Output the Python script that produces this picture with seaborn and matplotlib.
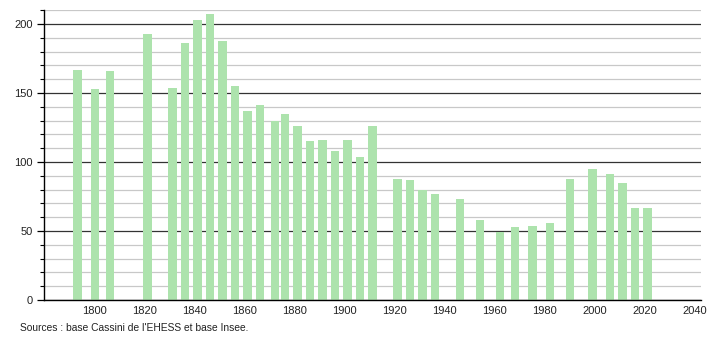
import matplotlib
matplotlib.use("Agg")
import matplotlib.pyplot as plt
import seaborn as sns
import pandas as pd
from matplotlib.ticker import MultipleLocator

years = [1793, 1800, 1806, 1821, 1831, 1836, 1841, 1846, 1851, 1856, 1861, 1866,
         1872, 1876, 1881, 1886, 1891, 1896, 1901, 1906, 1911, 1921, 1926, 1931,
         1936, 1946, 1954, 1962, 1968, 1975, 1982, 1990, 1999, 2006, 2011, 2016, 2021]
population = [167, 153, 166, 193, 154, 186, 203, 207, 188, 155, 137, 141,
              130, 135, 126, 115, 116, 108, 116, 104, 126, 88, 87, 80,
              77, 73, 58, 49, 53, 54, 56, 88, 95, 91, 85, 67, 67]
x_ticks = [1800, 1820, 1840, 1860, 1880, 1900, 1920, 1940, 1960, 1980, 2000, 2020, 2040]
y_ticks = [0, 50, 100, 150, 200]
source = "Sources : base Cassini de l'EHESS et base Insee."

sns.set_style("white")
plt.rcParams['font.family'] = ['Liberation Sans', 'DejaVu Sans']

df = pd.DataFrame({"year": years, "pop": population})

fig = plt.figure(figsize=(7.1, 3.4), dpi=100)
ax = fig.add_axes([44 / 710, 1 - 300 / 340, (700.7 - 44) / 710, (300 - 10.3) / 340])

sns.barplot(data=df, x="year", y="pop", native_scale=True, color="#ade3ad",
            saturation=1, width=0.85, linewidth=0, edgecolor="none", ax=ax, zorder=3)

ax.set_xlim(1779.7, 2042.3)
ax.set_ylim(0, 210)
ax.set_xticks(x_ticks)
ax.set_xticklabels([str(t) for t in x_ticks])
ax.set_yticks(y_ticks)
ax.yaxis.set_minor_locator(MultipleLocator(10))

ax.grid(axis="y", which="minor", color="#c8c8c8", linewidth=0.9, zorder=0)
ax.grid(axis="y", which="major", color="#333333", linewidth=0.9, zorder=1)
ax.set_axisbelow(True)

for s in ["top", "right"]:
    ax.spines[s].set_visible(False)
for s in ["left", "bottom"]:
    ax.spines[s].set_color("black")
    ax.spines[s].set_linewidth(1.0)
    ax.spines[s].set_zorder(5)

ax.tick_params(axis="y", which="major", length=5, width=0.9, color="black",
               labelsize=8, pad=3, left=True)
ax.tick_params(axis="y", which="minor", length=3, width=0.8, color="black", left=True)
ax.tick_params(axis="x", which="both", length=0, labelsize=8, pad=4)
for lbl in ax.get_xticklabels() + ax.get_yticklabels():
    lbl.set_color("#222222")

ax.set_xlabel("")
ax.set_ylabel("")

fig.text(20 / 710, 1 - 328 / 340, source, fontsize=7.4, color="#222222",
         ha="left", va="center")

fig.savefig("out.png", dpi=100)
